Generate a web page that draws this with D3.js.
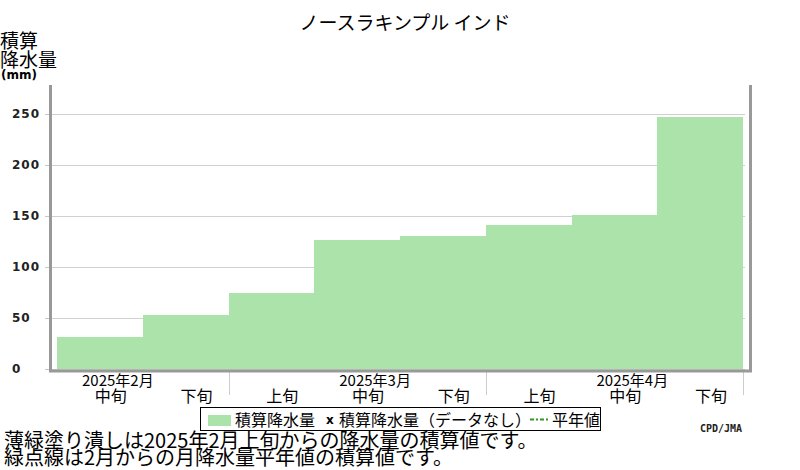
<!DOCTYPE html>
<html>
<head>
<meta charset="utf-8">
<script src="https://cdn.jsdelivr.net/npm/d3@7"></script>
<style>
  body { margin: 0; background: #fff; }
  text { font-family: "Noto Sans CJK JP", sans-serif; }
</style>
</head>
<body>
<div id="container"></div>
<script>
/* DATA */
const dekads = ["中旬", "下旬", "上旬", "中旬", "下旬", "上旬", "中旬", "下旬"];
const totals = [31, 53, 75, 126.5, 130.5, 141, 151, 247]; // 積算降水量 (mm)
const months = ["2025年2月", "2025年3月", "2025年4月"];
const monthLabelAt = [0, 3, 6];   // which dekad carries the month label
const monthEndAt = [1, 4, 7];     // last dekad of each month
const yTicks = [0, 50, 100, 150, 200, 250];

const width = 800, height = 470;
const plot = { left: 50, right: 750, top: 85, bottom: 371 };

const svg = d3.select("#container")
  .append("svg")
  .attr("width", width)
  .attr("height", height);

/* SCALES */
const xScale = d3.scaleBand()
  .domain(d3.range(dekads.length))
  .range([57, 743])
  .padding(0);

const yScale = d3.scaleLinear()
  .domain([0, 250])
  .range([369, 114]);

// grid lines (behind bars)
svg.append("g")
  .attr("transform", `translate(${plot.left},0)`)
  .call(d3.axisLeft(yScale).tickValues(yTicks).tickSize(-(745 - plot.left)).tickFormat(""))
  .call(g => g.select(".domain").remove())
  .call(g => g.selectAll("line").attr("stroke", "#d0d0d0"));

// bars
svg.selectAll("rect.bar")
  .data(totals)
  .join("rect")
  .attr("class", "bar")
  .attr("x", (d, i) => Math.round(xScale(i)))
  .attr("width", (d, i) => Math.round(xScale(i) + xScale.bandwidth()) - Math.round(xScale(i)))
  .attr("y", d => yScale(d))
  .attr("height", d => yScale(0) - yScale(d))
  .attr("fill", "#ace3aa")
  .attr("shape-rendering", "crispEdges");

// y axis: short ticks + left aligned labels
const yAxis = svg.append("g")
  .attr("transform", `translate(${plot.left},0)`)
  .call(d3.axisLeft(yScale).tickValues(yTicks).tickSizeInner(5).tickSizeOuter(0))
  .call(g => g.select(".domain").remove())
  .call(g => g.selectAll("line").attr("stroke", "#c8c8c8"));
yAxis.selectAll("text")
  .attr("x", 12 - plot.left)
  .attr("text-anchor", "start")
  .attr("fill", "#222")
  .style("font-family", "'DejaVu Sans', sans-serif")
  .style("font-weight", "bold")
  .style("font-size", "12px")
  .style("letter-spacing", "1px");

// month boundary ticks under x axis
svg.selectAll("line.mtick")
  .data(monthEndAt)
  .join("line")
  .attr("class", "mtick")
  .attr("x1", d => Math.round(xScale(d) + xScale.bandwidth()) + 0.5)
  .attr("x2", d => Math.round(xScale(d) + xScale.bandwidth()) + 0.5)
  .attr("y1", plot.bottom)
  .attr("y2", 395)
  .attr("stroke", "#cccccc");

// frame (left, bottom, right)
const frame = svg.append("g").attr("stroke", "#999").attr("stroke-width", 3).attr("fill", "none");
frame.append("path")
  .attr("d", `M${plot.left + 0.5},${plot.top} V${plot.bottom} H${plot.right + 0.5} V${plot.top}`);

// dekad labels
svg.selectAll("text.dekad")
  .data(dekads)
  .join("text")
  .attr("class", "dekad")
  .attr("x", (d, i) => xScale(i) + xScale.bandwidth() / 2 + 11)
  .attr("y", 402)
  .attr("text-anchor", "middle")
  .style("font-size", "16px")
  .text(d => d);

// month labels
svg.selectAll("text.month")
  .data(months)
  .join("text")
  .attr("class", "month")
  .attr("x", (d, i) => xScale(monthLabelAt[i]) + xScale.bandwidth() / 2 + 18)
  .attr("y", 386)
  .attr("text-anchor", "middle")
  .style("font-size", "15px")
  .text(d => d);

// title
svg.append("text")
  .attr("x", 405)
  .attr("y", 30)
  .attr("text-anchor", "middle")
  .style("font-size", "19px")
  .text("ノースラキンプル インド");

// y axis title
svg.append("text").attr("x", 0).attr("y", 48).style("font-size", "19px").text("積算");
svg.append("text").attr("x", 0).attr("y", 67).style("font-size", "19px").text("降水量");
svg.append("text").attr("x", 1).attr("y", 79)
  .style("font-family", "'DejaVu Sans', sans-serif")
  .style("font-weight", "bold").style("font-size", "12px").text("(mm)");

// legend
const legend = svg.append("g");
legend.append("rect")
  .attr("x", 200.5).attr("y", 407.5).attr("width", 400).attr("height", 23)
  .attr("fill", "#fff").attr("stroke", "#000");
legend.append("rect")
  .attr("x", 208).attr("y", 415).attr("width", 23).attr("height", 11)
  .attr("fill", "#ace3aa");
legend.append("text").attr("x", 235).attr("y", 426).style("font-size", "16px").text("積算降水量");
legend.append("text").attr("x", 326).attr("y", 424)
  .style("font-family", "'DejaVu Sans', sans-serif")
  .style("font-weight", "bold").style("font-size", "12px").text("x");
legend.append("text").attr("x", 339).attr("y", 426).style("font-size", "16px").text("積算降水量（データなし）");
legend.append("line")
  .attr("x1", 530).attr("x2", 548).attr("y1", 419.5).attr("y2", 419.5)
  .attr("stroke", "#2f9a1f").attr("stroke-width", 2).attr("stroke-dasharray", "4,2,2,2");
legend.append("text").attr("x", 552).attr("y", 426).style("font-size", "16px").text("平年値");

// source
svg.append("text")
  .attr("x", 700).attr("y", 432)
  .style("font-family", "'DejaVu Sans Mono', monospace")
  .style("font-weight", "bold").style("font-size", "10px")
  .attr("fill", "#222")
  .text("CPD/JMA");

// notes
svg.append("text").attr("x", 4).attr("y", 448).style("font-size", "20px")
  .text("薄緑塗り潰しは2025年2月上旬からの降水量の積算値です。");
svg.append("text").attr("x", 4).attr("y", 465).style("font-size", "20px")
  .text("緑点線は2月からの月降水量平年値の積算値です。");
</script>
</body>
</html>
